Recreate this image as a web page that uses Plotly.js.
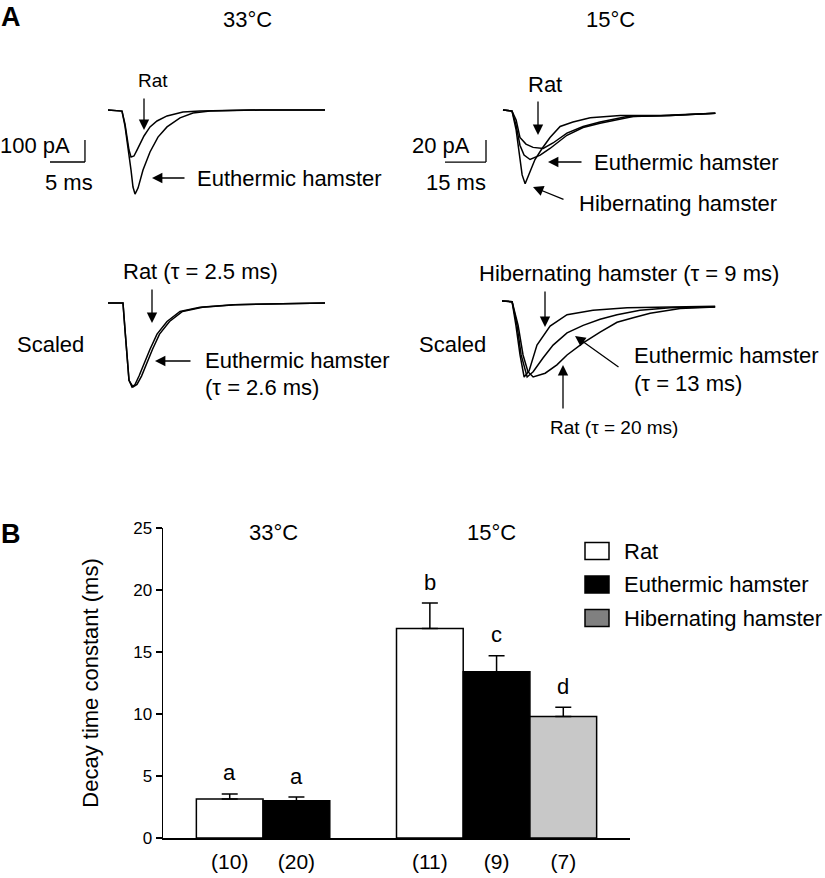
<!DOCTYPE html>
<html>
<head>
<meta charset="utf-8">
<script src="https://cdn.plot.ly/plotly-3.0.1.min.js"></script>
<style>html,body{margin:0;padding:0;background:#fff;}#chart{width:825px;height:878px;}</style>
</head>
<body>
<div id="chart"></div>
<script>
// ---------------- DATA ----------------
// Panel B: decay time constants (ms), mean and SEM, per temperature group
const temps = ['33°C', '15°C'];
const seriesNames = ['Rat', 'Euthermic hamster', 'Hibernating hamster'];
const ratTau = [3.15, 16.9];
const euthTau = [3.0, 13.4];
const hibTau = [null, 9.8];
const ratSem = [0.4, 2.05];
const euthSem = [0.3, 1.3];
const hibSem = [null, 0.75];
const ratN = [10, 11];
const euthN = [20, 9];
const hibN = [null, 7];
const ratLetters = ['a', 'b'];
const euthLetters = ['a', 'c'];
const hibLetters = [null, 'd'];

// Panel A, 33 °C raw currents (time ms, current pA)
const a33RatTime = [0, 2.0, 2.43, 2.71, 3.0, 3.29, 3.71, 4.14, 4.57, 5.14, 6.0, 7.0, 8.43, 10.71, 13.14, 20.29, 31.0];
const a33RatPA = [0, -5, -64, -127, -182, -214, -209, -182, -155, -118, -77, -50, -27, -9, -5, 0, 0];
const a33EuthTime = [0, 2.0, 2.43, 2.86, 3.29, 3.57, 3.86, 4.29, 5.0, 6.0, 7.14, 8.43, 10.29, 12.14, 14.57, 21.71, 31.0];
const a33EuthPA = [0, -5, -73, -164, -273, -350, -382, -355, -273, -191, -123, -77, -36, -14, -5, 0, 0];

// Panel A, 15 °C raw currents (time ms, current pA)
const a15HibTime = [0, 3.3, 4.8, 5.9, 7.0, 8.1, 9.9, 11.7, 14.3, 17.2, 20.9, 25.6, 31.9, 42.9, 57.5, 77.7];
const a15HibPA = [0, -1, -18, -41, -59, -67, -56, -45, -35, -25, -15, -11, -7, -5, -5, -3];
const a15EuthTime = [0, 3.3, 4.8, 6.2, 7.7, 9.9, 13.6, 17.2, 23.4, 29.3, 35.5, 47.6, 61.2, 77.7];
const a15EuthPA = [0, -1, -14, -32, -41, -45, -41, -35, -23, -16, -12, -6, -5, -3];
const a15RatTime = [0, 3.3, 4.8, 6.2, 8.4, 11.0, 14.7, 18.3, 23.4, 29.3, 35.5, 45.4, 61.2, 77.7];
const a15RatPA = [0, -1, -9, -25, -31, -34, -35, -30, -21, -15, -11, -6, -5, -3];

// Panel A, 33 °C scaled (normalised to peak)
const s33RatTime = [0, 2.14, 2.43, 2.71, 3.0, 3.43, 3.86, 4.43, 5.0, 6.0, 7.0, 8.43, 10.29, 13.14, 17.86, 24.57, 31.0];
const s33RatNorm = [0, 0, -0.32, -0.68, -0.92, -1.0, -0.97, -0.87, -0.75, -0.55, -0.37, -0.22, -0.10, -0.05, -0.02, -0.01, 0];
const s33EuthTime = [0, 2.14, 2.43, 2.71, 3.0, 3.57, 4.14, 4.79, 5.36, 6.36, 7.36, 8.79, 10.64, 13.5, 18.2, 24.57, 31.0];
const s33EuthNorm = [0, 0, -0.32, -0.68, -0.92, -1.0, -0.97, -0.87, -0.75, -0.55, -0.37, -0.22, -0.10, -0.05, -0.02, -0.01, 0];

// Panel A, 15 °C scaled (normalised to peak)
const s15HibTime = [0, 3.7, 5.1, 6.6, 8.1, 9.9, 12.8, 17.6, 23.8, 33.3, 45.8, 61.5, 78.0];
const s15HibNorm = [0, -0.01, -0.32, -0.71, -1.0, -0.92, -0.58, -0.33, -0.18, -0.12, -0.09, -0.08, -0.07];
const s15EuthTime = [0, 3.7, 5.5, 7.0, 9.2, 11.4, 15.0, 18.7, 23.8, 29.7, 35.9, 42.1, 50.5, 61.5, 78.0];
const s15EuthNorm = [0, -0.01, -0.32, -0.71, -1.0, -0.93, -0.75, -0.58, -0.42, -0.32, -0.24, -0.18, -0.12, -0.09, -0.08];
const s15RatTime = [0, 3.7, 5.9, 7.7, 9.5, 11.4, 15.8, 20.1, 23.8, 29.7, 35.9, 42.1, 48.0, 54.2, 65.2, 78.0];
const s15RatNorm = [0, -0.01, -0.32, -0.71, -0.93, -1.0, -0.95, -0.84, -0.71, -0.55, -0.41, -0.28, -0.22, -0.16, -0.10, -0.08];

// Scale bars
const scale33 = {ms: 5, pA: 100};
const scale15 = {ms: 15, pA: 20};

// ---------------- STYLE / LAYOUT ----------------
const W = 825, H = 878;
const FONT = 'Liberation Sans, Arial, sans-serif';
const barFill = ['#ffffff', '#000000', '#c8c8c8'];
const swatchFill = ['#ffffff', '#000000', '#808080'];
const px = x => x / W;
const py = y => 1 - y / H;

const traces = [];
function trace(t, v, ax) {
  traces.push({x: t, y: v, xaxis: 'x' + ax, yaxis: 'y' + ax, type: 'scatter', mode: 'lines',
    line: {color: '#000', width: 1.5}, hoverinfo: 'skip', showlegend: false});
}
trace(a33RatTime, a33RatPA, 2);
trace(a33EuthTime, a33EuthPA, 2);
trace(a15RatTime, a15RatPA, 3);
trace(a15EuthTime, a15EuthPA, 3);
trace(a15HibTime, a15HibPA, 3);
trace(s33RatTime, s33RatNorm, 4);
trace(s33EuthTime, s33EuthNorm, 4);
trace(s15RatTime, s15RatNorm, 5);
trace(s15EuthTime, s15EuthNorm, 5);
trace(s15HibTime, s15HibNorm, 5);

// Panel B bars
const means = [ratTau, euthTau, hibTau];
const sems = [ratSem, euthSem, hibSem];
const ns = [ratN, euthN, hibN];
const letters = [ratLetters, euthLetters, hibLetters];
const tickvals = [], ticktext = [];
const annotations = [];
means.forEach((m, s) => {
  const xs = [], ys = [], es = [];
  m.forEach((v, g) => {
    if (v === null) return;
    const pos = g * 3 + s + 1;
    xs.push(pos); ys.push(v); es.push(sems[s][g]);
    tickvals.push(pos); ticktext.push('(' + ns[s][g] + ')');
    annotations.push({x: pos, y: v + sems[s][g], xref: 'x', yref: 'y', text: letters[s][g],
      showarrow: false, yanchor: 'middle', yshift: 21, font: {size: 22, family: FONT, color: '#000'}});
  });
  traces.push({type: 'bar', x: xs, y: ys, width: 1, name: seriesNames[s], showlegend: false,
    marker: {color: barFill[s], line: {color: '#000', width: 1.5}},
    error_y: {type: 'data', symmetric: false, array: es, arrayminus: es.map(() => 0),
      color: '#000', thickness: 1.5, width: 8},
    hoverinfo: 'skip'});
});

function txt(x, y, text, opts) {
  annotations.push(Object.assign({x: px(x), y: py(y), xref: 'paper', yref: 'paper', text: text,
    showarrow: false, xanchor: 'center', yanchor: 'middle',
    font: {size: 22, family: FONT, color: '#000'}}, opts || {}));
}
function arrow(tipX, tipY, tailX, tailY) {
  annotations.push({x: px(tipX), y: py(tipY), xref: 'paper', yref: 'paper', text: '',
    showarrow: true, ax: tailX - tipX, ay: tailY - tipY, axref: 'pixel', ayref: 'pixel',
    arrowhead: 2, arrowsize: 1.6, arrowwidth: 1.3, arrowcolor: '#000', standoff: 0, startstandoff: 0});
}

// Panel letters and titles
txt(11, 17, '<b>A</b>', {font: {size: 27, family: FONT, color: '#000'}});
txt(11, 534, '<b>B</b>', {font: {size: 27, family: FONT, color: '#000'}});
txt(247, 20, temps[0]);
txt(610, 20, temps[1]);
// top-left
txt(153, 81, 'Rat', {font: {size: 19, family: FONT, color: '#000'}});
arrow(144, 130, 144, 97);
txt(195, 178, 'Euthermic hamster', {xanchor: 'left'});
arrow(152, 178, 186, 178);
txt(72, 145, '100 pA', {xanchor: 'right'});
txt(69, 182, '5 ms');
// top-right
txt(545, 85, 'Rat');
arrow(538, 135, 538, 100);
txt(592, 162, 'Euthermic hamster', {xanchor: 'left'});
arrow(548, 162, 583, 162);
txt(577, 203, 'Hibernating hamster', {xanchor: 'left'});
arrow(533, 187, 565, 200);
txt(472, 145, '20 pA', {xanchor: 'right'});
txt(456, 182, '15 ms');
// bottom-left
txt(200, 271, 'Rat (τ = 2.5 ms)');
arrow(152, 323, 152, 288);
txt(50, 344, 'Scaled');
txt(203, 360, 'Euthermic hamster', {xanchor: 'left'});
txt(203, 387, '(τ = 2.6 ms)', {xanchor: 'left'});
arrow(155, 361, 192, 361);
// bottom-right
txt(629, 273, 'Hibernating hamster (τ = 9 ms)');
arrow(545, 327, 545, 290);
txt(452, 344, 'Scaled');
txt(632, 355, 'Euthermic hamster', {xanchor: 'left'});
txt(632, 383, '(τ = 13 ms)', {xanchor: 'left'});
arrow(575, 336, 620, 368);
arrow(563, 365, 563, 410);
txt(614, 428, 'Rat (τ = 20 ms)', {font: {size: 19, family: FONT, color: '#000'}});
// Panel B group titles
txt(273, 532, temps[0]);
txt(492, 532, temps[1]);

// Legend (manual)
const shapes = [];
seriesNames.forEach((name, i) => {
  const cy = 551 + i * 33.5;
  shapes.push({type: 'rect', xref: 'paper', yref: 'paper', x0: px(585), x1: px(609), y0: py(cy + 8.5), y1: py(cy - 8.5),
    fillcolor: swatchFill[i], line: {color: '#000', width: 1.5}});
  txt(622, cy, name, {xanchor: 'left'});
});

// Scale bars (data coordinates of their subplots)
function scaleBar(ax, xEnd, yBottom, dx, dy) {
  shapes.push({type: 'line', xref: 'x' + ax, yref: 'y' + ax, x0: xEnd - dx, x1: xEnd, y0: yBottom, y1: yBottom, line: {color: '#000', width: 1.3}});
  shapes.push({type: 'line', xref: 'x' + ax, yref: 'y' + ax, x0: xEnd, x1: xEnd, y0: yBottom, y1: yBottom + dy, line: {color: '#000', width: 1.3}});
}
scaleBar(2, -3.29, -236.4, scale33.ms, scale33.pA);
scaleBar(3, -6.22, -47.3, scale15.ms, scale15.pA);

const hidden = {visible: false, fixedrange: true};
const layout = {
  width: W, height: H,
  margin: {l: 0, r: 0, t: 0, b: 0},
  paper_bgcolor: '#fff', plot_bgcolor: 'rgba(0,0,0,0)',
  font: {family: FONT, color: '#000'},
  showlegend: false,
  bargap: 0,
  xaxis: {domain: [px(163), px(630)], range: [0, 7], showline: true, linewidth: 1.5, linecolor: '#000',
    ticks: '', tickvals: tickvals, ticktext: ticktext, tickfont: {size: 21, family: FONT}, ticklabelstandoff: 4,
    showgrid: false, zeroline: false, fixedrange: true, anchor: 'y'},
  yaxis: {domain: [py(838), py(528)], range: [0, 25], dtick: 5, showline: true, linewidth: 1.5, linecolor: '#000',
    ticks: 'outside', ticklen: 6, tickwidth: 1.5, tickcolor: '#000', tickfont: {size: 17, family: FONT},
    showgrid: false, zeroline: false, fixedrange: true, anchor: 'x',
    title: {text: 'Decay time constant (ms)', font: {size: 22, family: FONT}, standoff: 28}},
  xaxis2: Object.assign({domain: [px(40), px(330)], range: [-9.714, 31.714], anchor: 'y2'}, hidden),
  yaxis2: Object.assign({domain: [py(200), py(95)], range: [-409.1, 68.2], anchor: 'x2'}, hidden),
  xaxis3: Object.assign({domain: [px(415), px(720)], range: [-32.2, 79.4], anchor: 'y3'}, hidden),
  yaxis3: Object.assign({domain: [py(200), py(95)], range: [-81.8, 13.6], anchor: 'x3'}, hidden),
  xaxis4: Object.assign({domain: [px(100), px(330)], range: [-1.143, 31.71], anchor: 'y4'}, hidden),
  yaxis4: Object.assign({domain: [py(400), py(290)], range: [-1.155, 0.155], anchor: 'x4'}, hidden),
  xaxis5: Object.assign({domain: [px(495), px(720)], range: [-2.56, 79.77], anchor: 'y5'}, hidden),
  yaxis5: Object.assign({domain: [py(390), py(290)], range: [-1.171, 0.145], anchor: 'x5'}, hidden),
  annotations: annotations,
  shapes: shapes
};

Plotly.newPlot('chart', traces, layout, {displayModeBar: false, staticPlot: true});
</script>
</body>
</html>
